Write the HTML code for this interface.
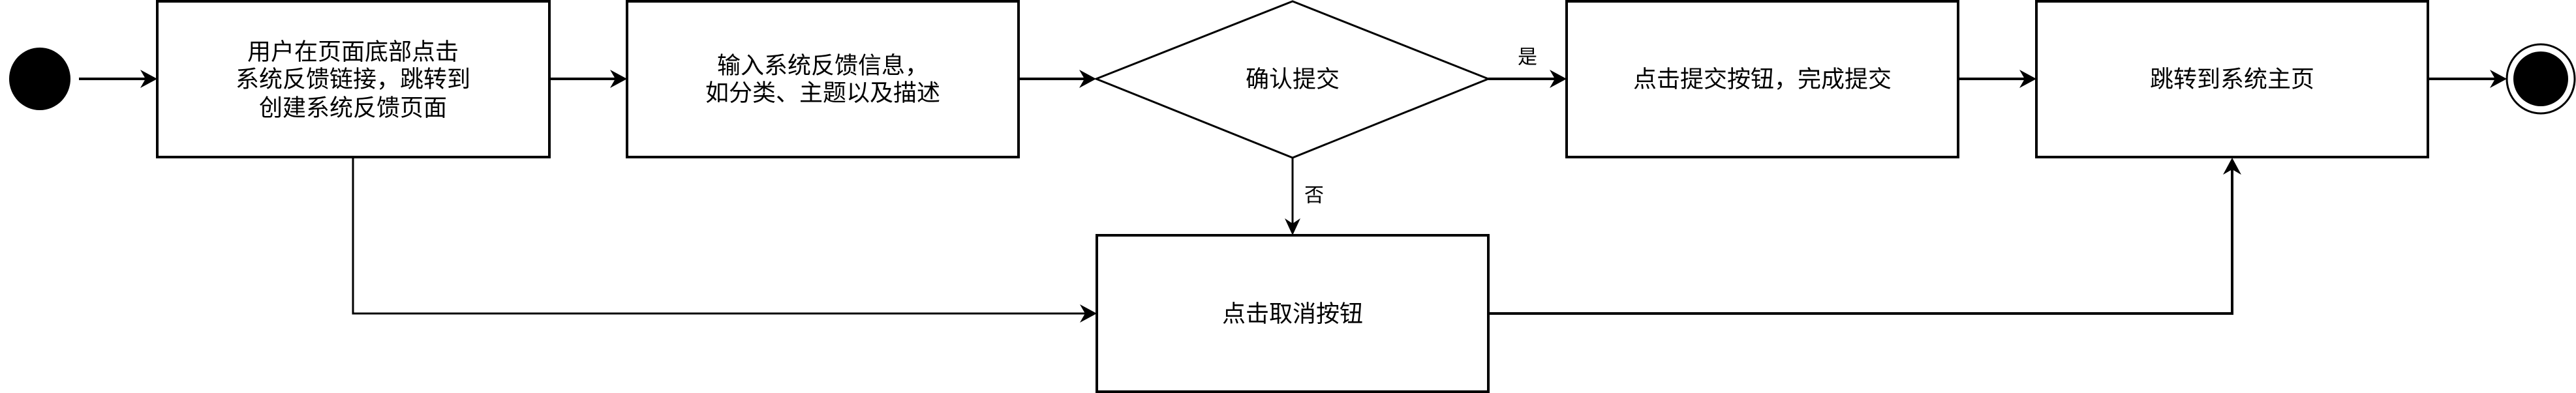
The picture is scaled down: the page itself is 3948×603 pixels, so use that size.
<!DOCTYPE html>
<html><head><meta charset="utf-8"><style>
html,body{margin:0;padding:0;background:#fff;width:3948px;height:603px;overflow:hidden}
svg text{font-family:"Liberation Sans","Noto Sans CJK SC",sans-serif;font-size:36px;fill:#000;text-anchor:middle;dominant-baseline:central}
</style></head><body>
<svg width="3948" height="603" viewBox="0 0 3948 603" xmlns="http://www.w3.org/2000/svg">
<defs>
<marker id="a" markerWidth="10" markerHeight="10" refX="9" refY="5" orient="auto" markerUnits="userSpaceOnUse" viewBox="0 0 10 10">
</marker>
</defs>
<g stroke="#000" fill="none">
<!-- start -->
<ellipse cx="61" cy="121" rx="47" ry="48" fill="#000" stroke="none"/>
<!-- boxes -->
<rect x="241" y="2" width="601" height="239" stroke-width="4" fill="#fff"/>
<rect x="961" y="2" width="600" height="239" stroke-width="4" fill="#fff"/>
<polygon points="1680,121 1981,2 2281,121 1981,242" stroke-width="3" fill="#fff"/>
<rect x="2401" y="2" width="600" height="239" stroke-width="4" fill="#fff"/>
<rect x="3121" y="2" width="600" height="239" stroke-width="4" fill="#fff"/>
<rect x="1681" y="361" width="600" height="240" stroke-width="4" fill="#fff"/>
<!-- end -->
<ellipse cx="3894" cy="121" rx="52" ry="53" stroke-width="3" fill="#fff"/>
<ellipse cx="3894" cy="121" rx="42" ry="42" fill="#000" stroke="none"/>
<!-- edges -->
<path d="M121 121H225" stroke-width="4"/>
<path d="M842 121H945" stroke-width="4"/>
<path d="M1561 121H1664" stroke-width="4"/>
<path d="M2281 121H2385" stroke-width="4"/>
<path d="M3001 121H3105" stroke-width="4"/>
<path d="M3721 121H3826" stroke-width="4"/>
<path d="M1981 242V345" stroke-width="3"/>
<path d="M541 241V481H1665" stroke-width="3"/>
<path d="M2281 481H3421V258" stroke-width="4"/>
</g>
<g fill="#000">
<polygon points="241,121 215,107 223,121 215,135"/>
<polygon points="961,121 935,107 943,121 935,135"/>
<polygon points="1680,121 1654,107 1662,121 1654,135"/>
<polygon points="2401,121 2375,107 2383,121 2375,135"/>
<polygon points="3121,121 3095,107 3103,121 3095,135"/>
<polygon points="3842,121 3816,107 3824,121 3816,135"/>
<polygon points="1681,481 1655,467 1663,481 1655,495"/>
<polygon points="1981,361 1969,335 1981,343 1993,335"/>
<polygon points="3421,242 3407,268 3421,260 3435,268"/>
</g>
<text x="541" y="79">用户在页面底部点击</text>
<text x="541" y="121">系统反馈链接，跳转到</text>
<text x="541" y="165">创建系统反馈页面</text>
<text x="1261" y="100">输入系统反馈信息，</text>
<text x="1261" y="142">如分类、主题以及描述</text>
<text x="1981" y="121">确认提交</text>
<text x="2701" y="121">点击提交按钮，完成提交</text>
<text x="3421" y="121">跳转到系统主页</text>
<text x="1981" y="481">点击取消按钮</text>
<text x="2341" y="88" style="font-size:30px">是</text>
<text x="2014" y="300" style="font-size:30px">否</text>
</svg>
</body></html>
